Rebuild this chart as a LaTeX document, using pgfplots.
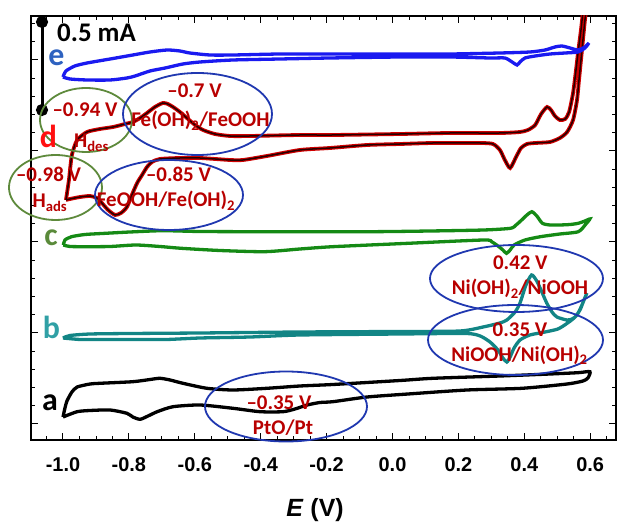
\documentclass[border=0pt]{standalone}
\usepackage{pgfplots}
\usepackage{pgfplotstable}
\pgfplotsset{compat=1.18}
\usepackage{fontspec}
\setmainfont{Carlito}
\newfontfamily\arialfont{Liberation Sans}
\definecolor{cvblue}{HTML}{1A1AF0}
\definecolor{cvgreen}{HTML}{158A15}
\definecolor{cvteal}{HTML}{128585}
\definecolor{cvred}{HTML}{D00000}
\definecolor{annred}{HTML}{B80000}
\definecolor{ellblue}{HTML}{2038B0}
\definecolor{ellgreen}{HTML}{5E8A3C}
\definecolor{lete}{HTML}{2E62C0}
\definecolor{letd}{HTML}{FF1010}
\definecolor{letc}{HTML}{5A8A3A}
\definecolor{letb}{HTML}{30A0A5}

% E (V) and offset current (1 unit = 0.5 mA / 91)
\pgfplotstableread{
E y
-1.000 363
-0.991 369
-0.964 374
-0.927 377
-0.857 381
-0.788 385
-0.736 388
-0.684 390
-0.645 389
-0.615 387
-0.554 385
-0.484 385
-0.341 386
-0.190 386
0.023 386
0.175 386
0.326 387
0.417 388
0.463 390
0.493 393
0.514 394
0.539 392
0.563 390
0.584 393
0.596 397
0.584 392
0.563 388
0.524 387
0.478 386
0.433 384
0.402 382
0.387 378
0.378 375
0.363 378
0.341 382
0.296 382
0.175 383
0.023 383
-0.190 382
-0.341 381
-0.484 380
-0.584 378
-0.636 376
-0.690 372
-0.736 369
-0.781 364
-0.806 362
-0.857 360
-0.927 360
-0.979 361
-1.000 363
}\dataE

\pgfplotstableread{
E y
-0.991 240
-0.982 260
-0.973 285
-0.957 300
-0.927 308
-0.888 311
-0.848 313
-0.812 316
-0.788 318
-0.766 322
-0.745 327
-0.721 333
-0.697 337
-0.682 336
-0.666 333
-0.645 328
-0.624 322
-0.599 315
-0.575 310
-0.539 306
-0.493 304
-0.432 304
-0.281 305
-0.181 305
0.023 306
0.175 307
0.326 307
0.387 308
0.411 310
0.433 315
0.451 326
0.469 333
0.481 330
0.493 324
0.508 320
0.524 321
0.536 328
0.548 347
0.557 370
0.563 387
0.572 410
0.581 435
0.590 435
0.584 420
0.575 390
0.566 360
0.560 340
0.548 320
0.530 308
0.508 302
0.478 298
0.433 297
0.408 296
0.390 292
0.375 283
0.357 272
0.341 280
0.326 290
0.305 296
0.266 297
0.123 297
0.023 296
-0.077 295
-0.190 292
-0.281 290
-0.381 284
-0.454 280
-0.493 280
-0.584 282
-0.645 282
-0.706 281
-0.730 278
-0.745 273
-0.760 265
-0.775 257
-0.791 245
-0.806 233
-0.824 227
-0.842 225
-0.863 230
-0.882 237
-0.897 242
-0.918 244
-0.948 243
-0.979 241
-0.991 240
}\dataD

\pgfplotstableread{
E y
-0.999 195
-0.994 200
-0.974 203.3
-0.933 205.5
-0.871 206.7
-0.797 208
-0.698 209.3
-0.584 208.5
-0.411 208.3
-0.068 208.3
0.114 209
0.277 210
0.358 211.7
0.375 215
0.392 220
0.408 225
0.423 228.3
0.438 224
0.455 216.7
0.478 215
0.507 215
0.539 215.5
0.564 216.7
0.584 219
0.599 221
0.587 216
0.564 208.3
0.508 206
0.449 203.3
0.402 200
0.369 195
0.357 190
0.346 186.7
0.335 190
0.323 193.3
0.302 198
0.277 200
0.048 196.7
-0.182 193.3
-0.281 191
-0.388 188.3
-0.524 189.5
-0.641 191.7
-0.706 193.5
-0.779 195
-0.857 193.5
-0.928 193.3
-0.979 193.5
-0.999 195
}\dataC

\pgfplotstableread{
E y
-1.000 102
-0.979 104.5
-0.918 106
-0.797 106.5
-0.584 107
-0.281 108
0.023 108.5
0.205 109
0.275 113
0.326 117
0.347 120
0.372 128
0.387 137
0.405 155
0.422 165
0.436 160
0.448 152
0.468 137
0.484 128
0.499 123
0.529 120
0.545 121
0.560 125
0.575 135
0.590 147
0.581 140
0.569 130
0.551 122
0.527 116
0.502 111
0.463 108
0.417 105
0.387 100
0.369 92
0.357 83
0.347 78
0.335 82
0.320 90
0.296 98
0.266 104
0.223 106.5
0.023 106
-0.281 105
-0.432 103
-0.584 102
-0.687 100.5
-0.797 100.5
-0.888 100.5
-0.948 100.5
-1.000 102
}\dataB

\pgfplotstableread{
E y
-1.000 23
-0.994 32
-0.988 39
-0.973 48
-0.957 53
-0.918 56
-0.888 56.7
-0.788 58.3
-0.736 60.5
-0.706 61.7
-0.675 60
-0.636 56.7
-0.563 51.7
-0.484 50
-0.381 51.7
-0.281 54
-0.181 55.5
0.023 59.5
0.123 61.7
0.326 64
0.478 66
0.563 67.3
0.599 68.3
0.593 62
0.578 59
0.530 56
0.393 51.7
0.226 50
0.047 46
-0.077 43
-0.181 38.3
-0.220 37.5
-0.259 35
-0.296 31
-0.332 28.3
-0.402 28.3
-0.484 31.7
-0.584 35
-0.666 33.3
-0.714 28.3
-0.742 24
-0.766 20.7
-0.788 23
-0.806 26.7
-0.857 30
-0.918 29.5
-0.957 28.3
-1.000 23
}\dataA

\begin{document}
\begin{tikzpicture}
\path[use as bounding box] (0,0) rectangle (621bp,531bp);
\begin{axis}[
  at={(31bp,91bp)}, anchor=south west,
  scale only axis, width=585bp, height=424bp,
  xmin=-1.0971, xmax=0.6783, ymin=0, ymax=424,
  clip mode=individual,
  axis line style={line width=2.2bp},
  tick align=inside,
  xtick={-1,-0.8,-0.6,-0.4,-0.2,0,0.2,0.4,0.6},
  xticklabels={-1.0,-0.8,-0.6,-0.4,-0.2,0.0,0.2,0.4,0.6},
  minor xtick={-1.05,-0.95,-0.9,-0.85,-0.75,-0.7,-0.65,-0.55,-0.5,-0.45,-0.35,-0.3,-0.25,-0.15,-0.1,-0.05,0.05,0.1,0.15,0.25,0.3,0.35,0.45,0.5,0.55,0.65},
  ytick={16,107,198,289,380}, yticklabels={},
  minor ytick={34.2,52.4,70.6,88.8,125.2,143.4,161.6,179.8,216.2,234.4,252.6,270.8,307.2,325.4,343.6,361.8,398.2,416.4},
  major tick length=7bp, minor tick length=4bp,
  every tick/.append style={black, line width=1bp},
  every minor tick/.append style={black, line width=0.8bp},
  xticklabel style={font=\arialfont\bfseries\fontsize{20}{24}\selectfont, yshift=-14bp},
]
\addplot[black, line width=3.3bp, smooth, tension=0.4] table[x=E,y=y] {\dataA};
\addplot[cvteal, line width=3.3bp, smooth, tension=0.4] table[x=E,y=y] {\dataB};
\addplot[cvgreen, line width=3.3bp, smooth, tension=0.4] table[x=E,y=y] {\dataC};
\addplot[cvred, line width=3.8bp, smooth, tension=0.4] table[x=E,y=y] {\dataD};
\addplot[black!85!red, line width=1.5bp, smooth, tension=0.4] table[x=E,y=y] {\dataD};
\addplot[cvblue, line width=3.3bp, smooth, tension=0.4] table[x=E,y=y] {\dataE};
% scale bar 0.5 mA
\addplot[black, line width=3bp, mark=*, mark size=4.5bp] coordinates {(-1.0637,418) (-1.0637,330)};

% ellipses
\draw[ellgreen, line width=1.8bp] (axis cs:-0.9302,320) ellipse [x radius=46bp, y radius=32bp];
\draw[ellblue, line width=1.8bp] (axis cs:-0.5918,326) ellipse [x radius=74.5bp, y radius=41bp];
\draw[ellgreen, line width=1.8bp] (axis cs:-1.0228,252.5) ellipse [x radius=46.5bp, y radius=32.5bp];
\draw[ellblue, line width=1.8bp] (axis cs:-0.6783,245) ellipse [x radius=74bp, y radius=35bp];
\draw[ellblue, line width=1.8bp] (axis cs:0.3763,161.5) ellipse [x radius=86.5bp, y radius=33.5bp];
\draw[ellblue, line width=1.8bp] (axis cs:0.3733,100) ellipse [x radius=87.5bp, y radius=35bp];
\draw[ellblue, line width=1.8bp] (axis cs:-0.3232,33.5) ellipse [x radius=81bp, y radius=35bp];

% annotation texts
\begin{scope}[every node/.style={annred, font=\bfseries\fontsize{21}{24}\selectfont, anchor=base, inner sep=0pt}]
\node at (axis cs:-0.9332,323) {--0.94 V};
\node at (axis cs:-0.9135,292) {H\textsubscript{des}};
\node at (axis cs:-0.6009,342) {--0.7 V};
\node at (axis cs:-0.5827,313) {Fe(OH)\textsubscript{2}/FeOOH};
\node at (axis cs:-1.044,258) {--0.98 V};
\node at (axis cs:-1.0395,232) {H\textsubscript{ads}};
\node at (axis cs:-0.6495,258) {--0.85 V};
\node at (axis cs:-0.6874,233) {FeOOH/Fe(OH)\textsubscript{2}};
\node at (axis cs:0.3879,170.7) {0.42 V};
\node at (axis cs:0.3869,145) {Ni(OH)\textsubscript{2}/NiOOH};
\node at (axis cs:0.3869,103.3) {0.35 V};
\node at (axis cs:0.3854,78.3) {NiOOH/Ni(OH)\textsubscript{2}};
\node at (axis cs:-0.3445,30) {--0.35 V};
\node at (axis cs:-0.3323,5) {PtO/Pt};
\end{scope}

% curve letters
\begin{scope}[every node/.style={font=\bfseries\fontsize{32}{36}\selectfont, inner sep=0pt}]
\node[black] at (axis cs:-1.0395,37.5) {a};
\node[letb] at (axis cs:-1.0349,113) {b};
\node[letc] at (axis cs:-1.0364,202) {c};
\node[letd] at (axis cs:-1.044,304) {d};
\node[lete] at (axis cs:-1.0197,382) {e};
\end{scope}
\node[black, font=\bfseries\fontsize{27}{32}\selectfont, anchor=west, inner sep=0pt] at (axis cs:-1.0182,407) {0.5 mA};
\end{axis}
\node[font=\arialfont\bfseries\fontsize{25}{30}\selectfont] at (315bp,21bp) {\textit{E} (V)};
\end{tikzpicture}
\end{document}
